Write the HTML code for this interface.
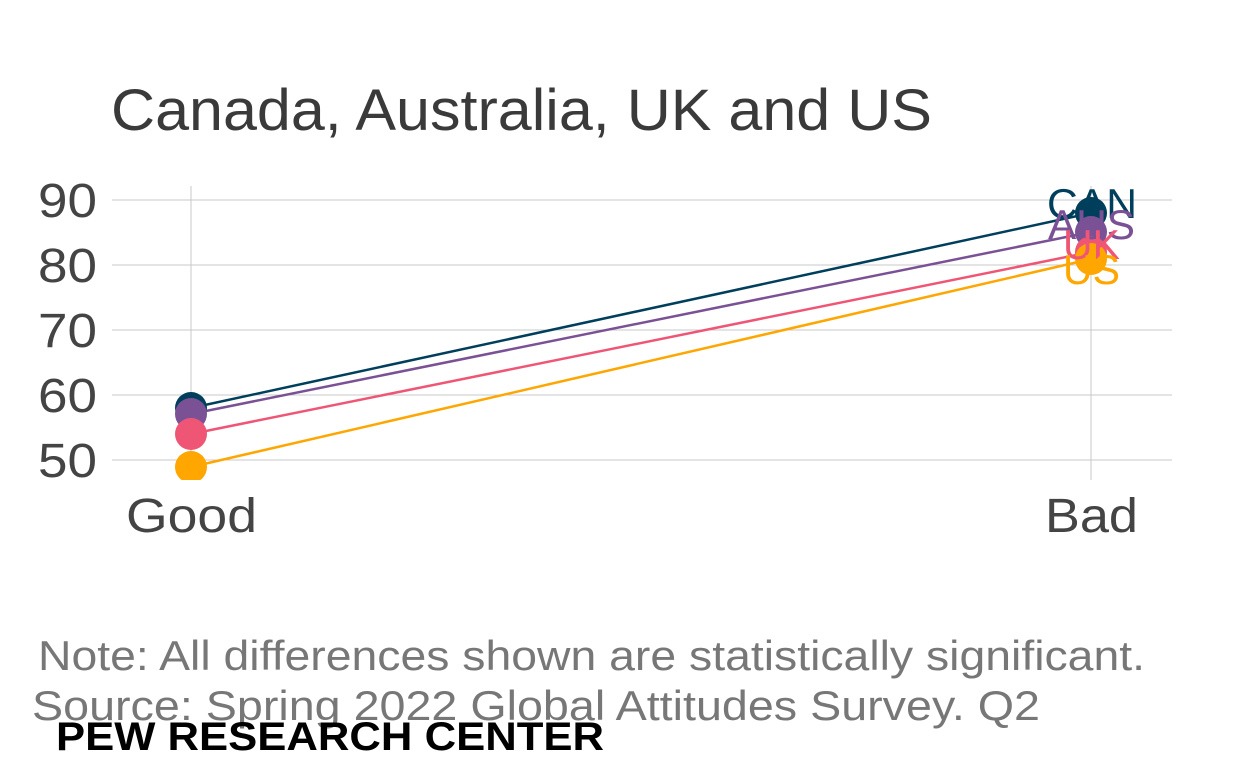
<!DOCTYPE html>
<html><head><style>body{margin:0;background:#fff}</style></head><body>
<svg width="1248" height="768" xmlns="http://www.w3.org/2000/svg" font-family="Liberation Sans, sans-serif">
<rect width="1248" height="768" fill="#fff"/>
<text x="111" y="130" font-size="58" fill="#3a3a3a" textLength="821" lengthAdjust="spacingAndGlyphs">Canada, Australia, UK and US</text>
<g stroke="#c8c8c8" stroke-width="1">
<line x1="112" x2="1172" y1="200" y2="200"/><line x1="112" x2="1172" y1="265" y2="265"/>
<line x1="112" x2="1172" y1="330" y2="330"/><line x1="112" x2="1172" y1="395" y2="395"/>
<line x1="112" x2="1172" y1="460" y2="460"/>
<line x1="191" x2="191" y1="186" y2="480"/><line x1="1091" x2="1091" y1="186" y2="480"/>
</g>
<g font-size="48" fill="#444">
<text x="38" y="217" textLength="59" lengthAdjust="spacingAndGlyphs">90</text>
<text x="38" y="282" textLength="59" lengthAdjust="spacingAndGlyphs">80</text>
<text x="38" y="347" textLength="59" lengthAdjust="spacingAndGlyphs">70</text>
<text x="38" y="412" textLength="59" lengthAdjust="spacingAndGlyphs">60</text>
<text x="38" y="477" textLength="59" lengthAdjust="spacingAndGlyphs">50</text>
<text x="126" y="532" textLength="131" lengthAdjust="spacingAndGlyphs">Good</text>
<text x="1045" y="532" textLength="93" lengthAdjust="spacingAndGlyphs">Bad</text>
</g>
<clipPath id="c"><rect x="100" y="180" width="1100" height="300"/></clipPath>
<g clip-path="url(#c)" stroke-width="2.5">
<line x1="191" y1="408" x2="1091" y2="213" stroke="#003f5c"/>
<line x1="191" y1="414" x2="1091" y2="232" stroke="#7a5195"/>
<line x1="191" y1="434" x2="1091" y2="252" stroke="#ef5675"/>
<line x1="191" y1="467" x2="1091" y2="259" stroke="#ffa600"/>
<circle cx="191" cy="408" r="16" fill="#003f5c"/><circle cx="191" cy="414" r="16" fill="#7a5195"/>
<circle cx="191" cy="434" r="16" fill="#ef5675"/><circle cx="191" cy="467" r="16" fill="#ffa600"/>
<circle cx="1091" cy="213" r="16" fill="#003f5c"/><circle cx="1091" cy="232" r="16" fill="#7a5195"/>
<circle cx="1091" cy="252" r="16" fill="#ef5675"/><circle cx="1091" cy="259" r="16" fill="#ffa600"/>
</g>
<g font-size="42">
<text x="1047" y="218" fill="#003f5c" textLength="90" lengthAdjust="spacingAndGlyphs">CAN</text>
<text x="1048" y="239" fill="#7a5195" textLength="87" lengthAdjust="spacingAndGlyphs">AUS</text>
<text x="1063" y="259" fill="#ef5675" textLength="57" lengthAdjust="spacingAndGlyphs">UK</text>
<text x="1063" y="284" fill="#ffa600" textLength="57" lengthAdjust="spacingAndGlyphs">US</text>
</g>
<text x="38" y="670" font-size="42" fill="#777" textLength="1107" lengthAdjust="spacingAndGlyphs">Note: All differences shown are statistically significant.</text>
<text x="32" y="720" font-size="42" fill="#777" textLength="1008" lengthAdjust="spacingAndGlyphs">Source: Spring 2022 Global Attitudes Survey. Q2</text>
<text x="56" y="750" font-size="40" font-weight="bold" fill="#000" textLength="548" lengthAdjust="spacingAndGlyphs">PEW RESEARCH CENTER</text>
</svg>
</body></html>
